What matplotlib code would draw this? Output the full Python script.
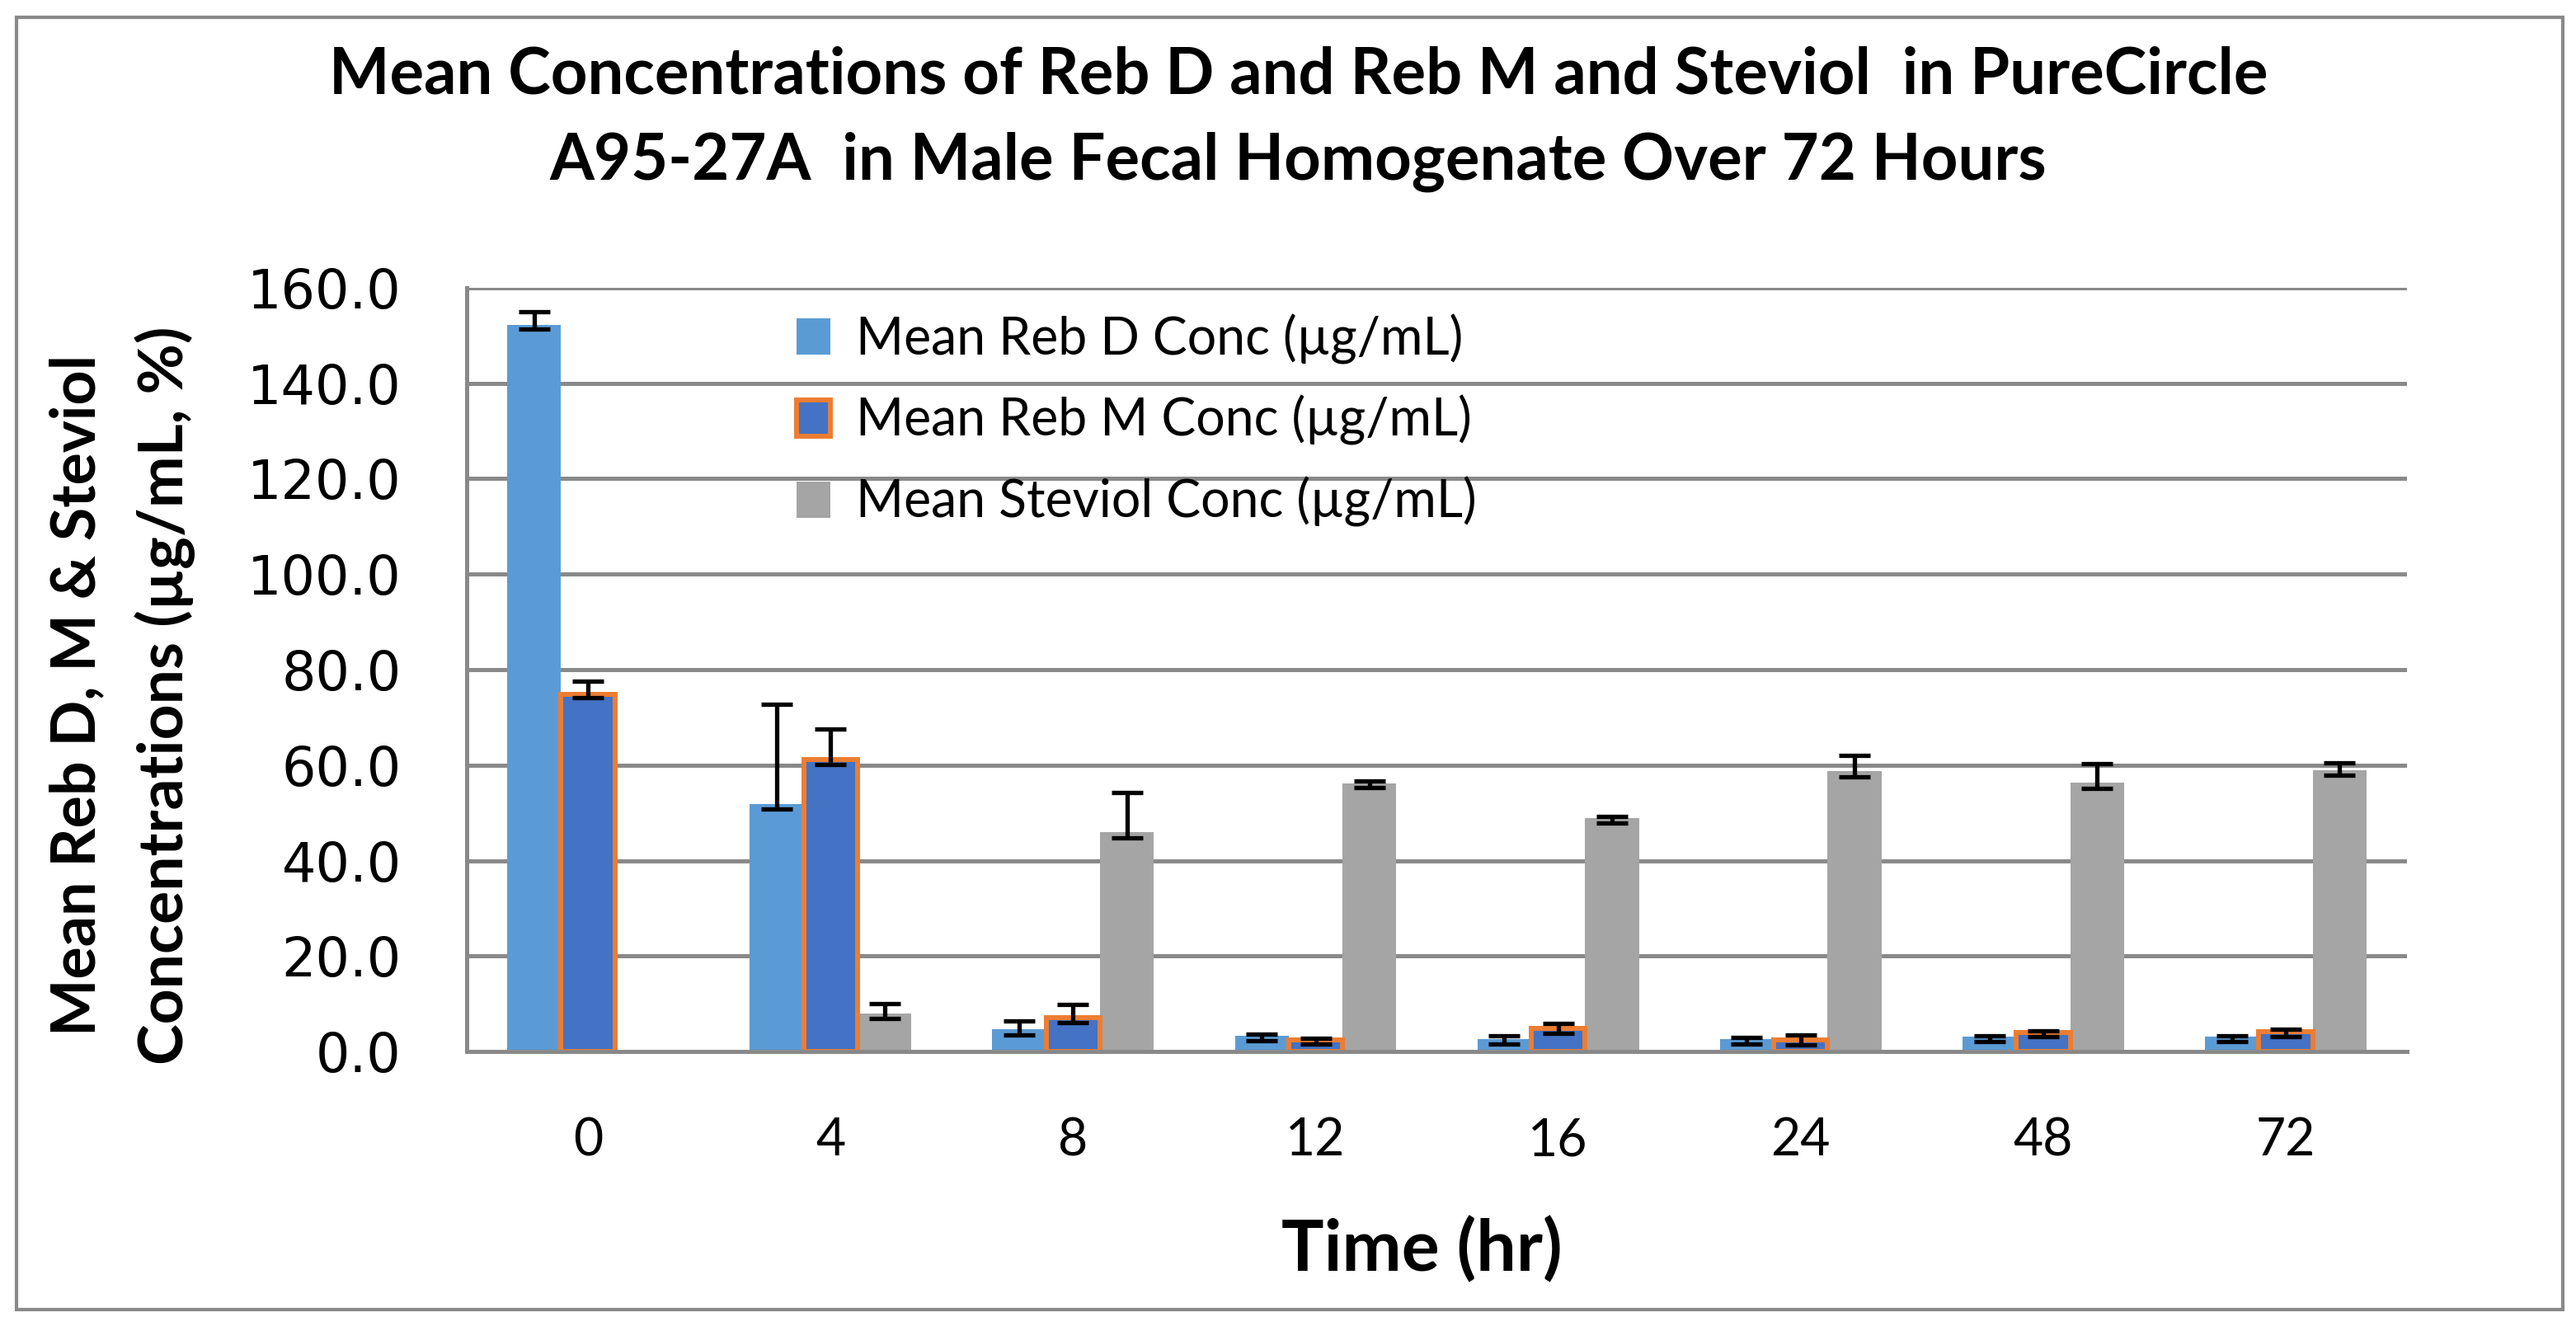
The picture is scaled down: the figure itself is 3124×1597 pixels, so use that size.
"""Mean Reb D / Reb M / Steviol concentrations in male fecal homogenate."""
import numpy as np
import matplotlib
matplotlib.use("Agg")
import matplotlib.pyplot as plt
from matplotlib.patches import Rectangle

# data
times = ["0", "4", "8", "12", "16", "24", "48", "72"]

reb_d = [152.3, 51.9, 4.6, 3.3, 2.6, 2.6, 3.2, 3.2]
reb_d_lo = [1.0, 1.1, 1.1, 1.1, 1.1, 1.1, 1.1, 1.1]
reb_d_hi = [2.6, 20.8, 1.8, 0.3, 0.7, 0.3, 0.1, 0.05]

reb_m = [74.9, 61.1, 7.1, 2.5, 4.8, 2.4, 4.0, 4.15]
reb_m_lo = [0.7, 1.0, 1.05, 0.95, 1.0, 1.0, 0.9, 1.05]
reb_m_hi = [2.6, 6.5, 2.7, 0.25, 1.0, 1.05, 0.3, 0.45]

steviol = [np.nan, 8.0, 45.9, 56.2, 48.85, 58.7, 56.25, 58.85]
steviol_lo = [0.0, 1.1, 1.1, 0.9, 1.05, 1.1, 1.05, 0.95]
steviol_hi = [0.0, 2.1, 8.4, 0.5, 0.45, 3.4, 4.1, 1.65]

labels = ["Mean Reb D Conc (µg/mL)", "Mean Reb M Conc (µg/mL)",
          "Mean Steviol Conc (µg/mL)"]

GRID = "#898989"
TXT = "Lato"

fig = plt.figure(figsize=(31.24, 15.97), dpi=100)
ax = fig.add_axes([0.1812, 0.2016, 0.9344 - 0.1812, 0.7815 - 0.2016])

x = np.arange(len(times))
w = 0.222
err_kw = dict(fmt="none", ecolor="black", elinewidth=3.8, capsize=14,
              capthick=3.8, zorder=3)

ax.bar(x - w, reb_d, w, color="#5B9BD5", label=labels[0], zorder=1)
ax.bar(x, reb_m, w, color="#4472C4", edgecolor="#ED7D31", linewidth=4.3,
       label=labels[1], zorder=1.1, clip_on=False)
ax.bar(x + w, steviol, w, color="#A5A5A5", label=labels[2], zorder=1)

ax.errorbar(x - w, reb_d, yerr=[reb_d_lo, reb_d_hi], **err_kw)
ax.errorbar(x, reb_m, yerr=[reb_m_lo, reb_m_hi], **err_kw)
sx = x[1:] + w
ax.errorbar(sx, steviol[1:], yerr=[steviol_lo[1:], steviol_hi[1:]], **err_kw)

ax.set_xlim(-0.5, len(times) - 0.5)
ax.set_ylim(0, 160)
ax.set_yticks(np.arange(0, 161, 20))
ax.set_yticklabels([f"{v:.1f}" for v in np.arange(0, 161, 20)],
                   family="DejaVu Sans", fontsize=47)
ax.set_xticks(x)
ax.set_xticklabels(times, family=TXT, fontsize=45)
ax.tick_params(axis="y", length=0, pad=57)
ax.tick_params(axis="x", length=0, pad=57)

ax.set_axisbelow(True)
ax.yaxis.grid(True, color=GRID, linewidth=3.6)
for side in ("top", "right"):
    ax.spines[side].set_visible(False)
ax.spines["left"].set_color(GRID)
ax.spines["left"].set_linewidth(3.6)
ax.spines["bottom"].set_color(GRID)
ax.spines["bottom"].set_linewidth(3.6)
ax.spines["bottom"].set_zorder(4)

leg = ax.legend(loc="upper left", bbox_to_anchor=(0.17, 0.966), frameon=False,
                prop={"family": TXT, "size": 45}, handlelength=0.65,
                handleheight=0.7, handletextpad=0.5, labelspacing=0.6,
                borderaxespad=0, borderpad=0)

fig.text(0.504, 0.943, "Mean Concentrations of Reb D and Reb M and Steviol  in PureCircle",
         ha="center", va="center", family=TXT, fontweight="bold", fontsize=56)
fig.text(0.504, 0.877, "A95-27A  in Male Fecal Homogenate Over 72 Hours",
         ha="center", va="center", family=TXT, fontweight="bold", fontsize=56)

fig.text(0.030, 0.472, "Mean Reb D, M & Steviol", rotation=90, ha="center",
         va="center", family=TXT, fontweight="bold", fontsize=53)
fig.text(0.064, 0.472, "Concentrations (µg/mL, %)", rotation=90, ha="center",
         va="center", family=TXT, fontweight="bold", fontsize=54)

fig.text(0.552, 0.051, "Time (hr)", ha="center", va="center", family=TXT,
         fontweight="bold", fontsize=62)

fig.patches.append(Rectangle((20 / 3124, 9 / 1597), 3088 / 3124, 1567 / 1597,
                             transform=fig.transFigure, fill=False,
                             edgecolor=GRID, linewidth=3))

fig.savefig("out.png", dpi=100)
